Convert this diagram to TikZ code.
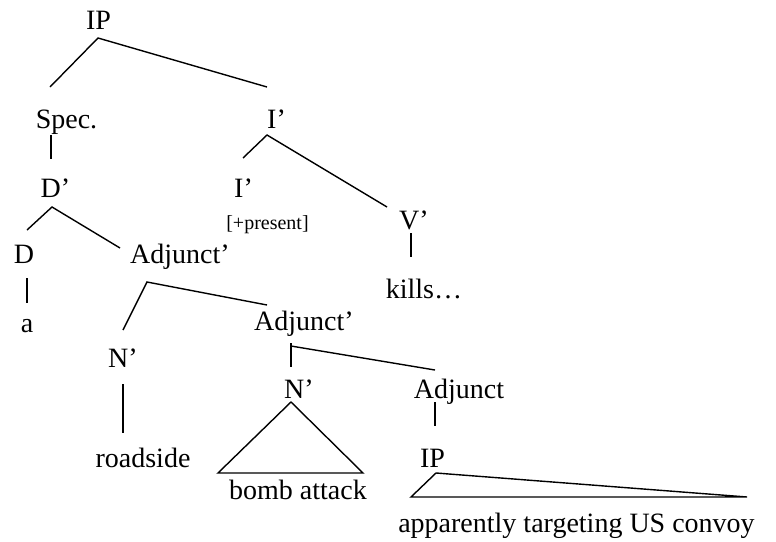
\documentclass[tikz,border=0pt]{standalone}
\usepackage{fontspec}
\setmainfont{Liberation Serif}
\begin{document}
\begin{tikzpicture}[x=1pt,y=-1pt,
  lbl/.style={anchor=base, inner sep=0pt, font=\fontsize{28}{32}\selectfont},
  feat/.style={anchor=base, inner sep=0pt, font=\fontsize{20}{24}\selectfont},
  branch/.style={line width=1.4pt, line cap=butt, line join=miter}]
\useasboundingbox (0,0) rectangle (776,541);

% category labels and words (placed by baseline)
\node[lbl] (ip)    at (98.5,29)  {IP};
\node[lbl] (spec)  at (66.5,128) {Spec.};
\node[lbl] (ibar)  at (276.5,128) {I’};
\node[lbl] (dbar)  at (55.5,197) {D’};
\node[lbl] (ihead) at (243.5,197) {I’};
\node[feat] (pres) at (267.5,229.5) {[+present]};
\node[lbl] (vbar)  at (414,229) {V’};
\node[lbl] (det)   at (24,263)  {D};
\node[lbl] (adjA)  at (180,263) {Adjunct’};
\node[lbl] (kills) at (424,298) {kills…};
\node[lbl] (a)     at (27,332)  {a};
\node[lbl] (adjB)  at (304,330) {Adjunct’};
\node[lbl] (nbarA) at (123,367) {N’};
\node[lbl] (nbarB) at (299,398) {N’};
\node[lbl] (adjC)  at (459,398) {Adjunct};
\node[lbl] (road)  at (143,467) {roadside};
\node[lbl] (ipB)   at (432.5,467) {IP};
\node[lbl] (bomb)  at (298,499) {bomb attack};
\node[lbl] (conv)  at (576.5,532) {apparently targeting US convoy};

% branch end points
\coordinate (ip-s)    at (98,38);
\coordinate (spec-n)  at (50,87);
\coordinate (ibar-n)  at (267,87);
\coordinate (spec-s)  at (51,135);
\coordinate (dbar-n)  at (51,159);
\coordinate (ibar-s)  at (267,135);
\coordinate (ihead-n) at (243,158);
\coordinate (vbar-n)  at (387,207);
\coordinate (dbar-s)  at (52,207);
\coordinate (det-n)   at (27,230);
\coordinate (adjA-n)  at (120,248);
\coordinate (vbar-s)  at (411,233);
\coordinate (kills-n) at (411,257);
\coordinate (det-s)   at (27,278);
\coordinate (a-n)     at (27,303);
\coordinate (adjA-s)  at (147,282);
\coordinate (nbarA-n) at (123,330);
\coordinate (adjB-n)  at (267,305);
\coordinate (nbarA-s) at (123,384);
\coordinate (road-n)  at (123,433);
\coordinate (adjB-s)  at (291,343);
\coordinate (adjB-r)  at (291,346);
\coordinate (nbarB-n) at (291,367);
\coordinate (adjC-n)  at (435,370);
\coordinate (nbarB-s) at (291,402);
\coordinate (bomb-l)  at (218,473);
\coordinate (bomb-r)  at (363,473);
\coordinate (adjC-s)  at (435,402);
\coordinate (ipB-n)   at (435,426);
\coordinate (ipB-s)   at (436,473);
\coordinate (conv-l)  at (411,497);
\coordinate (conv-r)  at (747,497);

% branches
\draw[branch] (spec-n) -- (ip-s) -- (ibar-n);
\draw[branch] (spec-s) -- (dbar-n);
\draw[branch] (ihead-n) -- (ibar-s) -- (vbar-n);
\draw[branch] (det-n) -- (dbar-s) -- (adjA-n);
\draw[branch] (vbar-s) -- (kills-n);
\draw[branch] (det-s) -- (a-n);
\draw[branch] (nbarA-n) -- (adjA-s) -- (adjB-n);
\draw[branch] (nbarA-s) -- (road-n);
\draw[branch] (adjB-s) -- (nbarB-n);
\draw[branch] (adjB-r) -- (adjC-n);
\draw[branch] (nbarB-s) -- (bomb-l) -- (bomb-r) -- cycle;
\draw[branch] (adjC-s) -- (ipB-n);
\draw[branch] (ipB-s) -- (conv-l) -- (conv-r) -- cycle;
\end{tikzpicture}
\end{document}
